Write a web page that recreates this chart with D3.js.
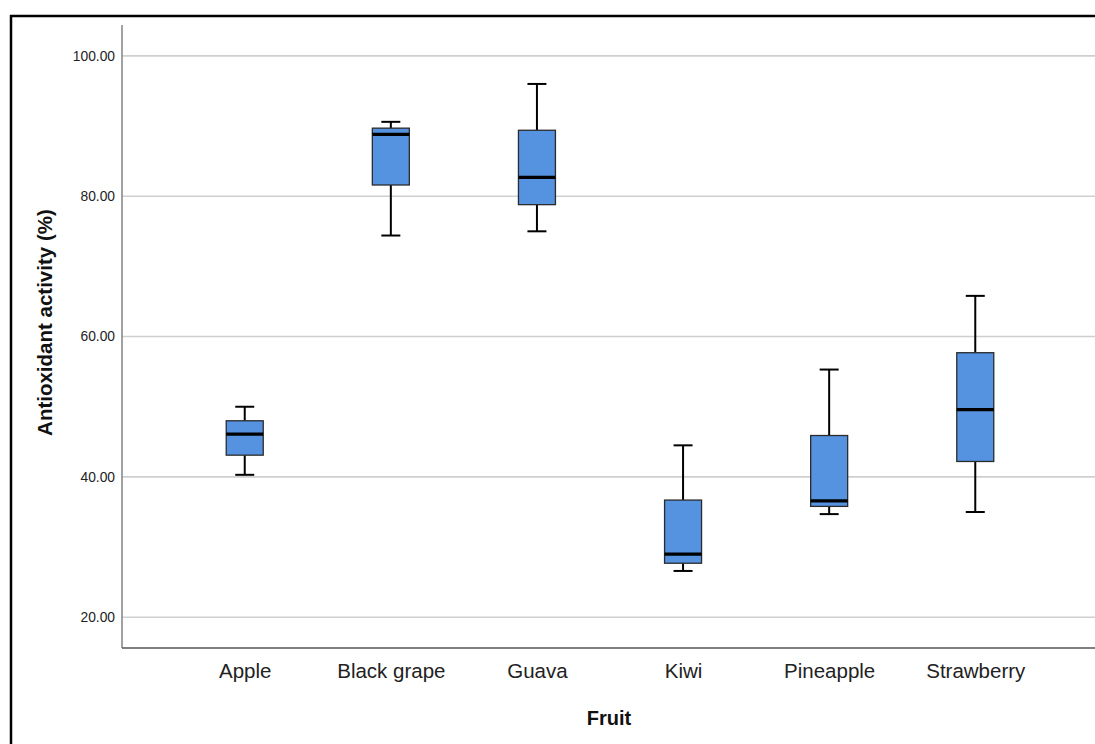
<!DOCTYPE html>
<html>
<head>
<meta charset="utf-8">
<script src="https://cdn.jsdelivr.net/npm/d3@7/dist/d3.min.js"></script>
<style>
  html, body { margin: 0; padding: 0; background: #fff; }
  svg { display: block; }
  text { font-family: "Liberation Sans", Arial, sans-serif; }
</style>
</head>
<body>
<svg id="chart" width="1095" height="744"></svg>
<script>
// Box plot summaries per fruit (antioxidant activity, %)
const fruits   = ["Apple", "Black grape", "Guava", "Kiwi", "Pineapple", "Strawberry"];
const whiskLow = [40.3, 74.4, 75.0, 26.6, 34.7, 35.0];
const q1       = [43.1, 81.6, 78.8, 27.7, 35.8, 42.2];
const median   = [46.1, 88.8, 82.7, 29.0, 36.6, 49.6];
const q3       = [48.0, 89.7, 89.4, 36.7, 45.9, 57.7];
const whiskHigh= [50.0, 90.6, 96.0, 44.5, 55.3, 65.8];
const yTicks   = [20, 40, 60, 80, 100];

const svg = d3.select("#chart");

// outer frame
svg.append("rect")
  .attr("x", 11).attr("y", 16)
  .attr("width", 1100).attr("height", 760)
  .attr("fill", "none").attr("stroke", "#000").attr("stroke-width", 2.5);

const plot = { left: 122, right: 1098, top: 25, bottom: 648 };

const y = d3.scaleLinear()
  .domain([15.62, 104.4])
  .range([plot.bottom, plot.top]);

const x = d3.scalePoint()
  .domain(fruits)
  .range([plot.left, plot.right])
  .padding(0.84);

// gridlines
svg.append("g")
  .selectAll("line")
  .data(yTicks)
  .join("line")
  .attr("x1", plot.left).attr("x2", 1100)
  .attr("y1", d => y(d)).attr("y2", d => y(d))
  .attr("stroke", "#cfcfcf").attr("stroke-width", 1.6);

// y axis
const yAxis = svg.append("g")
  .attr("transform", `translate(${plot.left},0)`)
  .call(d3.axisLeft(y).tickValues(yTicks).tickSize(0).tickPadding(7)
    .tickFormat(d3.format(".2f")));
yAxis.select(".domain").attr("stroke", "#8a8a8a").attr("stroke-width", 1.6)
  .attr("d", `M0,${plot.top}V${plot.bottom}`);
yAxis.selectAll("text")
  .attr("font-size", 13.8).attr("fill", "#222")
  .style("font-family", "'Liberation Sans', Arial, sans-serif");

// x axis
const xAxis = svg.append("g")
  .attr("transform", `translate(0,${plot.bottom})`)
  .call(d3.axisBottom(x).tickSize(0).tickPadding(15));
xAxis.select(".domain").attr("stroke", "#555").attr("stroke-width", 1.6)
  .attr("d", `M${plot.left},0H1100`);
xAxis.selectAll("text")
  .attr("font-size", 20.5).attr("fill", "#222")
  .style("font-family", "'Liberation Sans', Arial, sans-serif");

// axis titles
svg.append("text")
  .attr("x", 609).attr("y", 725)
  .attr("text-anchor", "middle")
  .attr("font-size", 20).attr("font-weight", "bold").attr("fill", "#111")
  .text("Fruit");

svg.append("text")
  .attr("transform", `translate(52,${(y(80) + y(40)) / 2 - 14}) rotate(-90)`)
  .attr("text-anchor", "middle")
  .attr("font-size", 20.5).attr("font-weight", "bold").attr("fill", "#111")
  .text("Antioxidant activity (%)");

// boxes
const boxW = 37, capW = 19;
const data = fruits.map((f, i) => ({
  f, lo: whiskLow[i], q1: q1[i], med: median[i], q3: q3[i], hi: whiskHigh[i]
}));

const g = svg.append("g").selectAll("g").data(data).join("g")
  .attr("transform", d => `translate(${x(d.f)},0)`);

// whisker stems
g.append("line")
  .attr("x1", 0).attr("x2", 0)
  .attr("y1", d => y(d.hi)).attr("y2", d => y(d.q3))
  .attr("stroke", "#000").attr("stroke-width", 2);
g.append("line")
  .attr("x1", 0).attr("x2", 0)
  .attr("y1", d => y(d.q1)).attr("y2", d => y(d.lo))
  .attr("stroke", "#000").attr("stroke-width", 2);

// whisker caps
g.append("line")
  .attr("x1", -capW / 2).attr("x2", capW / 2)
  .attr("y1", d => y(d.hi)).attr("y2", d => y(d.hi))
  .attr("stroke", "#000").attr("stroke-width", 2);
g.append("line")
  .attr("x1", -capW / 2).attr("x2", capW / 2)
  .attr("y1", d => y(d.lo)).attr("y2", d => y(d.lo))
  .attr("stroke", "#000").attr("stroke-width", 2);

// interquartile box
g.append("rect")
  .attr("x", -boxW / 2).attr("width", boxW)
  .attr("y", d => y(d.q3)).attr("height", d => y(d.q1) - y(d.q3))
  .attr("fill", "#5592e0").attr("stroke", "#2b2b2b").attr("stroke-width", 1.3);

// median
g.append("line")
  .attr("x1", -boxW / 2).attr("x2", boxW / 2)
  .attr("y1", d => y(d.med)).attr("y2", d => y(d.med))
  .attr("stroke", "#000").attr("stroke-width", 3.2);
</script>
</body>
</html>
